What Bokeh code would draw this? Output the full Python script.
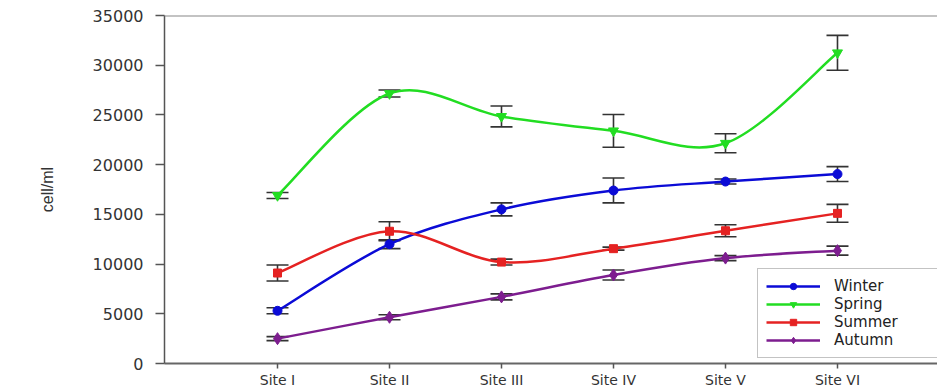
from bokeh.plotting import figure
from bokeh.models import (ColumnDataSource, Range1d, FixedTicker, Whisker, TeeHead,
                          Span, Legend, LegendItem)
from bokeh.embed import file_html
from bokeh.resources import INLINE

sites = ["Site I", "Site II", "Site III", "Site IV", "Site V", "Site VI"]
x_pos = [1, 2, 3, 4, 5, 6]

winter = [5300, 12000, 15500, 17400, 18300, 19050]
winter_err = [300, 450, 650, 1250, 250, 750]
spring = [16900, 27150, 24850, 23400, 22150, 31250]
spring_err = [300, 350, 1050, 1650, 950, 1750]
summer = [9100, 13300, 10200, 11550, 13350, 15100]
summer_err = [800, 950, 300, 150, 600, 900]
autumn = [2500, 4650, 6700, 8900, 10600, 11350]
autumn_err = [200, 250, 300, 500, 250, 450]

series = [
    ("Winter", winter, winter_err, "#0b0bd6", "circle", 9),
    ("Spring", spring, spring_err, "#22dd22", "inverted_triangle", 10),
    ("Summer", summer, summer_err, "#e52222", "square", 8),
    ("Autumn", autumn, autumn_err, "#7d1d8f", "diamond", 12),
]

FONT = "DejaVu Sans"

p = figure(width=937, height=391, output_backend="svg", toolbar_location=None,
           x_range=Range1d(-0.009, 6.893), y_range=Range1d(0, 35000),
           min_border_left=164, min_border_right=0, min_border_top=15,
           min_border_bottom=28)
p.outline_line_color = None
p.xgrid.grid_line_color = None
p.ygrid.grid_line_color = None
p.background_fill_color = "white"

# axes
p.xaxis.ticker = FixedTicker(ticks=x_pos)
p.xaxis.major_label_overrides = {x: s for x, s in zip(x_pos, sites)}
p.xaxis.axis_line_color = "#666666"
p.xaxis.axis_line_width = 2
p.xaxis.major_tick_line_color = "#555555"
p.xaxis.major_tick_line_width = 1.5
p.xaxis.major_tick_out = 5
p.xaxis.major_tick_in = 0
p.xaxis.minor_tick_line_color = None
p.xaxis.major_label_standoff = 3
p.xaxis.major_label_text_font = FONT
p.xaxis.major_label_text_font_size = "14px"
p.xaxis.major_label_text_color = "#333333"

p.yaxis.ticker = FixedTicker(ticks=[0, 5000, 10000, 15000, 20000, 25000, 30000, 35000])
p.yaxis.axis_line_color = "#555555"
p.yaxis.axis_line_width = 1.5
p.yaxis.major_tick_line_color = "#555555"
p.yaxis.major_tick_line_width = 1.5
p.yaxis.major_tick_out = 9
p.yaxis.major_tick_in = 0
p.yaxis.minor_tick_line_color = None
p.yaxis.major_label_standoff = 12
p.yaxis.major_label_text_font = FONT
p.yaxis.major_label_text_font_size = "16px"
p.yaxis.major_label_text_color = "#333333"
p.yaxis.axis_label = "cell/ml"
p.yaxis.axis_label_text_font = "Liberation Sans"
p.yaxis.axis_label_text_font_style = "normal"
p.yaxis.axis_label_text_font_size = "16px"
p.yaxis.axis_label_text_color = "#333333"
p.yaxis.axis_label_standoff = 34

# top frame line
p.add_layout(Span(location=35000, dimension="width", line_color="#888888", line_width=2))


def catmull_bezier(xs, ys):
    n = len(xs)
    X = [xs[0]] + list(xs) + [xs[-1]]
    Y = [ys[0]] + list(ys) + [ys[-1]]
    d = dict(x0=[], y0=[], x1=[], y1=[], cx0=[], cy0=[], cx1=[], cy1=[])
    for i in range(1, n):
        p0x, p0y = X[i - 1], Y[i - 1]
        p1x, p1y = X[i], Y[i]
        p2x, p2y = X[i + 1], Y[i + 1]
        p3x, p3y = X[i + 2], Y[i + 2]
        d["x0"].append(p1x); d["y0"].append(p1y)
        d["x1"].append(p2x); d["y1"].append(p2y)
        d["cx0"].append(p1x + (p2x - p0x) / 6.0)
        d["cy0"].append(p1y + (p2y - p0y) / 6.0)
        d["cx1"].append(p2x - (p3x - p1x) / 6.0)
        d["cy1"].append(p2y - (p3y - p1y) / 6.0)
    return d


items = []
for name, vals, errs, color, marker, size in series:
    bsrc = ColumnDataSource(catmull_bezier(x_pos, vals))
    br = p.bezier(x0="x0", y0="y0", x1="x1", y1="y1", cx0="cx0", cy0="cy0",
                  cx1="cx1", cy1="cy1", source=bsrc, line_color=color, line_width=2.5)
    src = ColumnDataSource(dict(x=x_pos, y=vals,
                                upper=[v + e for v, e in zip(vals, errs)],
                                lower=[v - e for v, e in zip(vals, errs)]))
    w = Whisker(source=src, base="x", upper="upper", lower="lower",
                line_color="#333333", line_width=1.6,
                upper_head=TeeHead(size=22, line_color="#333333", line_width=1.6),
                lower_head=TeeHead(size=22, line_color="#333333", line_width=1.6))
    p.add_layout(w)
    sr = p.scatter(x="x", y="y", source=src, marker=marker, size=size,
                   fill_color=color, line_color=color)
    items.append(LegendItem(label=name, renderers=[br, sr]))

legend = Legend(items=items, location=(593, 5))
legend.label_text_font = FONT
legend.label_text_font_size = "15px"
legend.label_text_color = "#222222"
legend.label_height = 16
legend.glyph_height = 16
legend.glyph_width = 54
legend.label_standoff = 14
legend.label_width = 96
legend.spacing = 0
legend.padding = 8
legend.margin = 0
legend.border_line_color = "#888888"
legend.border_line_width = 1.5
legend.background_fill_color = "white"
legend.background_fill_alpha = 1.0
p.add_layout(legend)

open("out.html", "w").write(file_html(p, INLINE))
